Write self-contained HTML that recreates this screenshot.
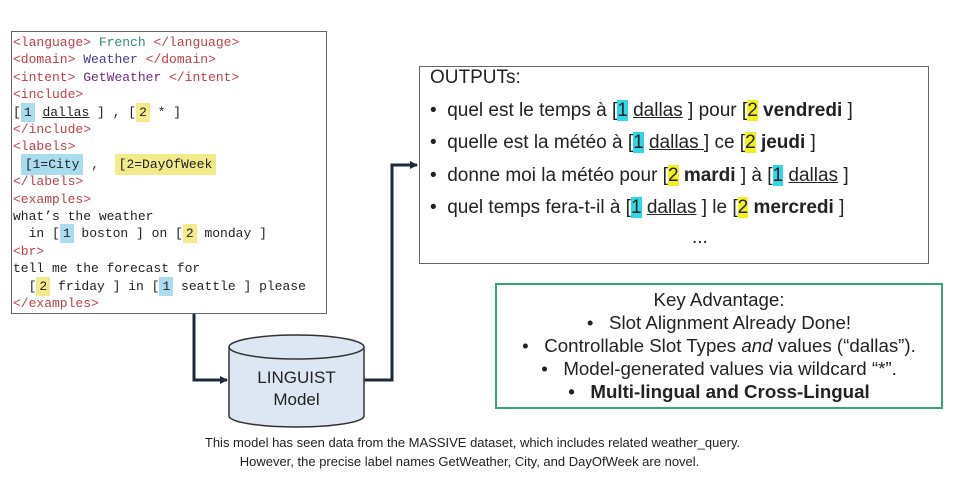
<!DOCTYPE html>
<html><head><meta charset="utf-8"><style>
body{margin:0;width:955px;height:495px;background:#fff;position:relative;overflow:hidden;font-family:"Liberation Sans",sans-serif;color:#222}
.abs{position:absolute}
#code{left:11px;top:31px;width:316px;height:283px;border:1.5px solid #666;box-sizing:border-box}
.cl{position:absolute;left:1px;font-family:"Liberation Mono",monospace;font-size:13px;white-space:pre;line-height:17px;color:#222}
.t{color:#c0404a}
.b{background:#a9dcef;padding:2px 3px}
.y{background:#f3ea8c;padding:2px 3px}
.u{text-decoration:underline}
#out{left:419px;top:66px;width:510px;height:198px;border:1.5px solid #666;box-sizing:border-box}
.ol{position:absolute;left:10px;font-size:19px;white-space:pre;color:#222}
.c{background:#2fd8e6}
.ye{background:#f2f21a}
#key{left:495px;top:283px;width:448px;height:126px;border:2px solid #3aa676;box-sizing:border-box}
.kl{position:absolute;left:0;width:100%;text-align:center;font-size:18.7px;white-space:pre;color:#222}
.cap{position:absolute;width:955px;left:0;text-align:center;font-size:13px;color:#222}
</style></head><body>
<div id="code" class="abs">
<div class="cl" style="top:2px"><span class="t">&lt;language&gt;</span> <span style="color:#2e8b7a">French</span> <span class="t">&lt;/language&gt;</span></div>
<div class="cl" style="top:19.4px"><span class="t">&lt;domain&gt;</span> <span style="color:#3b3b9c">Weather</span> <span class="t">&lt;/domain&gt;</span></div>
<div class="cl" style="top:36.8px"><span class="t">&lt;intent&gt;</span> <span style="color:#6b2f7a">GetWeather</span> <span class="t">&lt;/intent&gt;</span></div>
<div class="cl" style="top:54.2px"><span class="t">&lt;include&gt;</span></div>
<div class="cl" style="top:71.6px">[<span class="b">1</span> <span class="u">dallas</span> ] , [<span class="y">2</span> * ]</div>
<div class="cl" style="top:89px"><span class="t">&lt;/include&gt;</span></div>
<div class="cl" style="top:106.4px"><span class="t">&lt;labels&gt;</span></div>
<div class="cl" style="top:123.8px"> <span class="b" style="padding:3px 4px">[1=City</span> ,  <span class="y" style="padding:3px 4px">[2=DayOfWeek</span></div>
<div class="cl" style="top:141.2px"><span class="t">&lt;/labels&gt;</span></div>
<div class="cl" style="top:158.6px"><span class="t">&lt;examples&gt;</span></div>
<div class="cl" style="top:176px">what’s the weather</div>
<div class="cl" style="top:193.4px">  in [<span class="b">1</span> boston ] on [<span class="y">2</span> monday ]</div>
<div class="cl" style="top:210.8px"><span class="t">&lt;br&gt;</span></div>
<div class="cl" style="top:228.2px">tell me the forecast for</div>
<div class="cl" style="top:245.6px">  [<span class="y">2</span> friday ] in [<span class="b">1</span> seattle ] please</div>
<div class="cl" style="top:263px"><span class="t">&lt;/examples&gt;</span></div>
</div>

<div id="out" class="abs">
<div class="ol" style="top:0px">OUTPUTs:</div>
<div class="ol" style="top:33px">•  quel est le temps à [<span class="c">1</span> <span class="u">dallas</span> ] pour [<span class="ye">2</span> <b>vendredi</b> ]</div>
<div class="ol" style="top:65px">•  quelle est la météo à [<span class="c">1</span> <span class="u">dallas </span>] ce [<span class="ye">2</span> <b>jeudi</b> ]</div>
<div class="ol" style="top:98px">•  donne moi la météo pour [<span class="ye">2</span> <b>mardi</b> ] à [<span class="c">1</span> <span class="u">dallas</span> ]</div>
<div class="ol" style="top:130px">•  quel temps fera-t-il à [<span class="c">1</span> <span class="u">dallas</span> ] le [<span class="ye">2</span> <b>mercredi</b> ]</div>
<div class="ol" style="top:160px;left:272px">...</div>
</div>

<div id="key" class="abs">
<div class="kl" style="top:4px">Key Advantage:</div>
<div class="kl" style="top:27px">•   Slot Alignment Already Done!</div>
<div class="kl" style="top:50px">•   Controllable Slot Types <i>and</i> values (“dallas”).</div>
<div class="kl" style="top:73px">•   Model-generated values via wildcard “*”.</div>
<div class="kl" style="top:96px"><b>•   Multi-lingual and Cross-Lingual</b></div>
</div>

<svg class="abs" style="left:0;top:0" width="955" height="495">
<defs><marker id="a" markerWidth="8" markerHeight="8" refX="7" refY="4" orient="auto" markerUnits="userSpaceOnUse"><path d="M0,0 L8,4 L0,8 z" fill="#1e2a38"/></marker></defs>
<polyline points="194,314 194,380 227,380" fill="none" stroke="#1e2a38" stroke-width="3" marker-end="url(#a)"/>
<polyline points="364,380 392,380 392,165 417,165" fill="none" stroke="#1e2a38" stroke-width="3" marker-end="url(#a)"/>
<path d="M229,347 L229,416 A67.5,11 0 0 0 364,416 L364,347" fill="#dce7f3" stroke="#333" stroke-width="1.5"/>
<ellipse cx="296.5" cy="347" rx="67.5" ry="12" fill="#dce7f3" stroke="#333" stroke-width="1.5"/>
<text x="296.5" y="383" text-anchor="middle" font-family="Liberation Sans" font-size="17" fill="#222">LINGUIST</text>
<text x="296.5" y="405" text-anchor="middle" font-family="Liberation Sans" font-size="17" fill="#222">Model</text>
</svg>

<div class="cap" style="top:435px;left:-5px">This model has seen data from the MASSIVE dataset, which includes related weather_query.</div>
<div class="cap" style="top:454px;left:-8px">However, the precise label names GetWeather, City, and DayOfWeek are novel.</div>
</body></html>
